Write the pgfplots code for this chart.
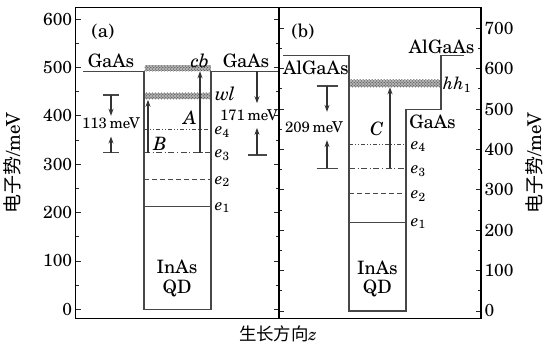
\documentclass[border=0pt]{standalone}
\usepackage{pgfplots}
\pgfplotsset{compat=1.18}
\usetikzlibrary{arrows.meta,patterns}
\usepackage{fontspec}
\setmainfont{TeX Gyre Schola}
\newfontfamily\cjk{Noto Sans CJK SC}
\tikzset{
  lev/.style={black!72, line width=1.2bp},
  band/.style={draw=none, fill=gray!60, postaction={pattern=crosshatch dots, pattern color=black!85}},
  arr/.style={black!80, line width=1.1bp, -{Stealth[length=7bp,width=5bp]}},
  lab/.style={font=\fontsize{18.5}{18.5}\selectfont, inner sep=0pt},
  elab/.style={font=\fontsize{17}{17}\selectfont, inner sep=0pt, anchor=west},
  mev/.style={font=\fontsize{15}{15}\selectfont, inner sep=0pt},
}
\pgfplotsset{
  common/.style={
    anchor=south west, scale only axis, height=311.4bp,
    xtick=\empty, minor y tick num=1,
    tick style={black!85, line width=0.8bp}, major tick length=5bp, minor tick length=3bp,
    tick label style={font=\fontsize{17.5}{17.5}\selectfont},
    /pgf/number format/assume math mode=true,
    axis line style={black, line width=1.2bp},
    clip=false,
    ylabel style={font=\fontsize{19}{19}\selectfont, anchor=center},
  }
}
\begin{document}
\begin{tikzpicture}
% ---------- panel (a) ----------
\begin{axis}[common,
  at={(75.7bp,28.3bp)}, width=203.3bp,
  xmin=75.7, xmax=279, ymin=-19.4, ymax=624.2,
  ytick={0,100,...,600},
  ylabel={{\cjk 电子势}/meV},
  ylabel style={at={(axis description cs:-0.31,0.5)}},
]
\addplot[band] coordinates {(144.5,492)(210.5,492)(210.5,504)(144.5,504)} -- cycle;
\addplot[band] coordinates {(144.5,434)(210.5,434)(210.5,448)(144.5,448)} -- cycle;
\addplot[lev] coordinates {(83,492)(144,492)(144,0)(211,0)(211,492)(279,492)};
\addplot[lev, dash pattern=on 4bp off 2bp on 1bp off 2bp on 1bp off 2bp] coordinates {(144,372)(211,372)};
\addplot[lev, dash pattern=on 6bp off 2.5bp on 1.2bp off 2.5bp] coordinates {(144,324)(211,324)};
\addplot[lev, dash pattern=on 5bp off 3bp] coordinates {(144,268)(211,268)};
\addplot[lev] coordinates {(144,212)(211,212)};
% transitions
\addplot[arr] coordinates {(200,324)(200,492)};
\addplot[arr] coordinates {(148,324)(148,433)};
% 113 meV
\addplot[lev] coordinates {(103,443)(119,443)};
\addplot[lev] coordinates {(103,324)(119,324)};
\addplot[arr] coordinates {(111,443)(111,400)};
\addplot[arr] coordinates {(111,324)(111,357)};
% 171 meV
\addplot[arr] coordinates {(257,492)(257,426)};
\addplot[lev] coordinates {(248,319)(267,319)};
\addplot[arr] coordinates {(257,319)(257,375)};
\node[mev] at (axis cs:111,384) {113\,meV};
\node[mev] at (axis cs:249,401) {171\,meV};
\node[lab] at (axis cs:103,573) {(a)};
\node[lab] at (axis cs:111,513) {GaAs};
\node[lab] at (axis cs:246,513) {GaAs};
\node[lab] at (axis cs:200,513) {\textit{cb}};
\node[lab] at (axis cs:225,445) {\textit{wl}};
\node[lab] at (axis cs:190,397) {\textit{A}};
\node[lab] at (axis cs:160,342) {\textit{B}};
\node[elab] at (axis cs:215,367) {\textit{e}\textsubscript{4}};
\node[elab] at (axis cs:215,319) {\textit{e}\textsubscript{3}};
\node[elab] at (axis cs:215,264) {\textit{e}\textsubscript{2}};
\node[elab] at (axis cs:215,210) {\textit{e}\textsubscript{1}};
\node[lab] at (axis cs:177,87) {InAs};
\node[lab] at (axis cs:177,43) {QD};
\draw[black, line width=2.4bp] (rel axis cs:1,0) -- (rel axis cs:1,1);
\node[font=\fontsize{17.5}{17.5}\selectfont] at (axis description cs:0.995,-0.048) {{\cjk 生长方向}\textit{z}};
\end{axis}
% ---------- panel (b) ----------
\begin{axis}[common,
  at={(279bp,28.3bp)}, width=202bp,
  xmin=279, xmax=481, ymin=-19.1, ymax=751.9,
  ytick={0,100,...,700},
  yticklabel pos=right,
  ylabel={{\cjk 电子势}/meV},
  ylabel style={at={(axis description cs:1.262,0.5)}},
]
\addplot[band] coordinates {(349.5,554)(441,554)(441,572)(349.5,572)} -- cycle;
\addplot[lev] coordinates {(283.3,632)(349,632)(349,0)(406,0)(406,499)(441,499)(441,632)(464.3,632)};
\addplot[lev, dash pattern=on 4bp off 2bp on 1bp off 2bp on 1bp off 2bp] coordinates {(349,412)(406,412)};
\addplot[lev, dash pattern=on 6bp off 2.5bp on 1.2bp off 2.5bp] coordinates {(349,353)(406,353)};
\addplot[lev, dash pattern=on 5bp off 3bp] coordinates {(349,290)(406,290)};
\addplot[lev] coordinates {(349,219.6)(406,219.6)};
\addplot[arr] coordinates {(390,353)(390,554)};
% 209 meV
\addplot[lev] coordinates {(316.7,557)(338.3,557)};
\addplot[lev] coordinates {(316.7,353)(338.3,353)};
\addplot[arr] coordinates {(327,557)(327,493)};
\addplot[arr] coordinates {(327,353)(327,423)};
\node[mev] at (axis cs:314,454) {209\,meV};
\node[lab] at (axis cs:303,691) {(b)};
\node[lab] at (axis cs:315.8,601) {AlGaAs};
\node[lab] at (axis cs:441.7,655) {AlGaAs};
\node[lab] at (axis cs:432.5,469) {GaAs};
\node[lab] at (axis cs:376.7,452) {\textit{C}};
\node[elab] at (axis cs:443,560) {\textit{hh}\textsubscript{1}};
\node[elab] at (axis cs:411,407) {\textit{e}\textsubscript{4}};
\node[elab] at (axis cs:411,347) {\textit{e}\textsubscript{3}};
\node[elab] at (axis cs:411,285) {\textit{e}\textsubscript{2}};
\node[elab] at (axis cs:411,217) {\textit{e}\textsubscript{1}};
\node[lab] at (axis cs:377.3,108) {InAs};
\node[lab] at (axis cs:377.3,56) {QD};
\end{axis}
\pgfresetboundingbox
\path (0,0) rectangle (549bp,347bp);
\end{tikzpicture}
\end{document}
